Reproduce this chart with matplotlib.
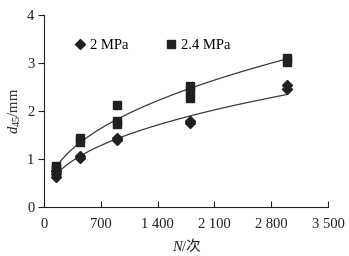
"""
d45 vs cycle count N for two pressures, with power-law trend lines.
"""
import numpy as np
import matplotlib
matplotlib.use('Agg')
import matplotlib.pyplot as plt

plt.rcParams['font.family'] = ['Liberation Serif', 'Noto Sans CJK SC']
plt.rcParams['mathtext.fontset'] = 'custom'
plt.rcParams['mathtext.rm'] = 'Liberation Serif'
plt.rcParams['mathtext.it'] = 'Liberation Serif:italic'

INK = '#231f20'
LINE = '#3a3a3a'
FS = 10.5

# cycle counts and measured d45 (mm)
n_2mpa = [150, 150, 150, 450, 450, 900, 900, 1800, 1800, 3000, 3000]
d_2mpa = [0.62, 0.70, 0.75, 1.03, 1.07, 1.40, 1.45, 1.75, 1.80, 2.46, 2.54]

n_24mpa = [150, 150, 150, 450, 450, 900, 900, 900, 1800, 1800, 1800, 3000, 3000]
d_24mpa = [0.78, 0.82, 0.86, 1.35, 1.45, 1.74, 1.80, 2.12, 2.28, 2.45, 2.53, 3.03, 3.10]

x_ticks = [0, 700, 1400, 2100, 2800, 3500]
x_labels = ['0', '700', '1 400', '2 100', '2 800', '3 500']
y_ticks = [0, 1, 2, 3, 4]


def power_fit(n, d):
    b, ln_a = np.polyfit(np.log(n), np.log(d), 1)
    xs = np.linspace(min(n), max(n), 200)
    return xs, np.exp(ln_a) * xs ** b


fig = plt.figure(figsize=(3.49, 2.56), dpi=100)
ax = fig.add_axes([0.126, 0.191, 0.814, 0.75])

for n, d, mk, ms, lab in [(n_2mpa, d_2mpa, 'D', 5.0, '2 MPa'),
                           (n_24mpa, d_24mpa, 's', 5.6, '2.4 MPa')]:
    xs, ys = power_fit(n, d)
    ax.plot(xs, ys, color=LINE, linewidth=0.9, zorder=2)
    ax.plot(n, d, linestyle='none', marker=mk, markersize=ms,
            color=INK, label=lab, zorder=3)

ax.set_xlim(0, 3500)
ax.set_ylim(0, 4)
ax.set_xticks(x_ticks)
ax.set_xticklabels(x_labels)
ax.set_yticks(y_ticks)
ax.tick_params(axis='x', direction='in', length=4, width=0.8,
               labelsize=FS, pad=8, colors=INK)
ax.tick_params(axis='y', direction='out', length=4, width=0.8,
               labelsize=FS, pad=3, colors=INK)
for side in ['top', 'right']:
    ax.spines[side].set_visible(False)
for side in ['left', 'bottom']:
    ax.spines[side].set_linewidth(0.8)
    ax.spines[side].set_color(INK)

# x label: italic N followed by "/次"
xlab = ax.set_xlabel('/次', fontsize=FS, color=INK, labelpad=7)
xlab.set_x(0.52)
ax.annotate('N', xy=(0, 0.5), xycoords=xlab, ha='right', va='center',
            fontsize=FS, style='italic', color=INK)
ax.set_ylabel(r'$d_{45}$/mm', fontsize=FS, color=INK, labelpad=3)

ax.legend(loc='upper left', ncol=2, frameon=False, fontsize=FS,
          handlelength=0.7, handletextpad=0.3, columnspacing=2.6,
          bbox_to_anchor=(0.09, 0.905), borderaxespad=0)

fig.savefig('out.png', dpi=100)
